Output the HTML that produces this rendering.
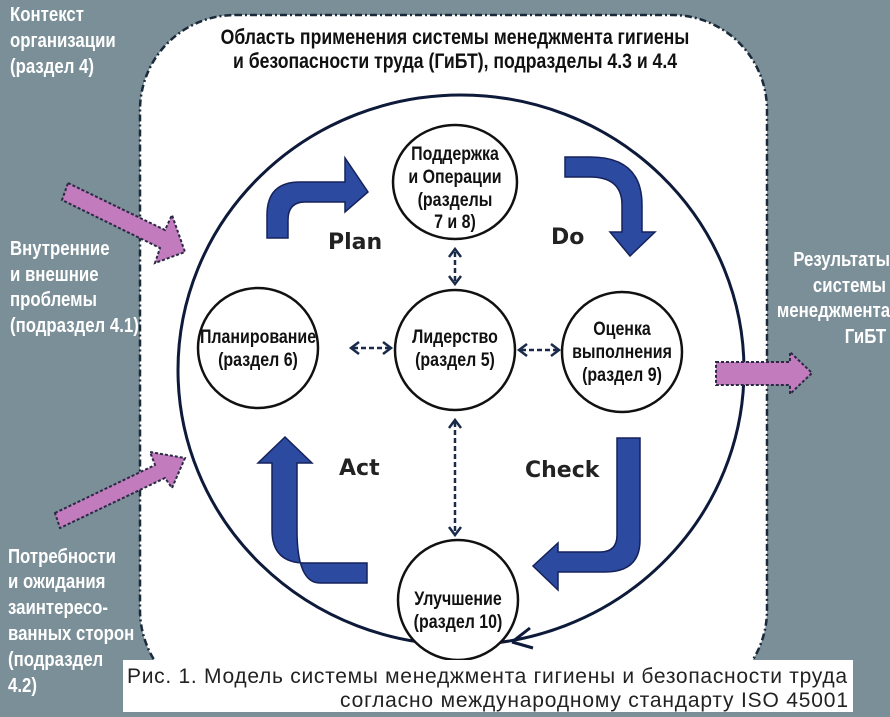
<!DOCTYPE html>
<html><head><meta charset="utf-8"><style>
html,body{margin:0;padding:0;background:#7b8f98;}
svg{display:block}
text.n{transform-box:fill-box;transform:scaleX(0.84)}
.w{font-family:"Liberation Sans",sans-serif;font-weight:bold;fill:#fff;font-size:20px}
.b{font-family:"Liberation Sans",sans-serif;font-weight:bold;fill:#111;font-size:19px}
.p{font-family:"DejaVu Sans","Liberation Sans",sans-serif;font-weight:bold;fill:#222;font-size:22px}
.c{font-family:"Liberation Sans",sans-serif;fill:#222;font-size:21px}
.mid text{transform-origin:center}
.st text{transform-origin:left}
.en text{transform-origin:right}
</style></head><body>
<svg width="890" height="717" viewBox="0 0 890 717" xmlns="http://www.w3.org/2000/svg">
<rect x="0" y="0" width="890" height="717" fill="#7b8f98"/>
<rect x="140" y="15" width="627" height="690" rx="95" fill="#fff" stroke="#1a2a3a" stroke-width="2.5" stroke-dasharray="7,3,2,3"/>
<ellipse cx="461" cy="370" rx="283" ry="275" fill="none" stroke="#0e1a3a" stroke-width="3"/>
<path d="M512,642 L530,628 M512,642 L533,648" stroke="#0e1a3a" stroke-width="3" fill="none"/>
<g fill="#fff" stroke="#111" stroke-width="2.5">
<ellipse cx="455" cy="182" rx="62" ry="57"/>
<circle cx="258" cy="348" r="60"/>
<circle cx="455" cy="350" r="60"/>
<circle cx="622" cy="352" r="60"/>
<circle cx="458" cy="600" r="60"/>
</g>
<g stroke="#1a2a4a" stroke-width="2.5" stroke-dasharray="5,3" fill="none">
<line x1="455" y1="252" x2="455" y2="282"/>
<line x1="353" y1="348" x2="389" y2="348"/>
<line x1="521" y1="350" x2="557" y2="350"/>
<line x1="455" y1="422" x2="455" y2="533"/>
</g>
<g stroke="#1a2a4a" stroke-width="2.5" fill="none">
<path d="M449,257 L455,249 L461,257 M449,276 L455,284 L461,276"/>
<path d="M359,342 L351,348 L359,354 M383,342 L391,348 L383,354"/>
<path d="M527,344 L519,350 L527,356 M551,344 L559,350 L551,356"/>
<path d="M449,428 L455,420 L461,428 M449,527 L455,535 L461,527"/>
</g>
<g fill="#2c4aa0" stroke="#15225a" stroke-width="1.5">
<path d="M267,238 L267,215 Q267,182 300,182 L345,182 L345,158 L368,192 L345,212 L345,202 L305,202 Q288,202 288,220 L288,238 Z"/>
<path d="M565,157 L590,157 Q642,157 642,205 L642,232 L655,232 L630,256 L610,232 L622,232 L622,205 Q622,177 590,177 L565,177 Z"/>
<path d="M640,438 L640,540 Q640,572 605,572 L558,572 L558,590 L533,566 L558,543 L558,552 L600,552 Q617,552 617,535 L617,438 Z"/>
<path d="M367,563 L305,563 Q272,563 272,530 L272,463 L258,463 L285,437 L312,463 L297,463 L297,530 Q297,583 320,583 L367,583 Z"/>
</g>
<g fill="#c27bbd" stroke="#2a2a44" stroke-width="2" stroke-dasharray="3,2">
<path d="M68,183 L165,230 L172,215 L185,252 L155,263 L160,248 L62,200 Z"/>
<path d="M55,513 L155,465 L150,452 L185,458 L172,488 L165,478 L60,528 Z"/>
<path d="M716,362 L790,362 L790,352 L812,373 L790,394 L790,385 L716,385 Z"/>
</g>
<text class="p" x="328" y="249">Plan</text>
<text class="p" x="551" y="244">Do</text>
<text class="p" x="339" y="475">Act</text>
<text class="p" x="525" y="477">Check</text>
<g class="b mid" text-anchor="middle">
<text class="n" x="455" y="160">Поддержка</text>
<text class="n" x="455" y="183">и Операции</text>
<text class="n" x="455" y="206">(разделы</text>
<text class="n" x="455" y="228">7 и 8)</text>
<text class="n" x="258" y="343">Планирование</text>
<text class="n" x="258" y="366">(раздел 6)</text>
<text class="n" x="455" y="343">Лидерство</text>
<text class="n" x="455" y="366">(раздел 5)</text>
<text class="n" x="622" y="335">Оценка</text>
<text class="n" x="622" y="358">выполнения</text>
<text class="n" x="622" y="381">(раздел 9)</text>
<text class="n" x="458" y="605">Улучшение</text>
<text class="n" x="458" y="628">(раздел 10)</text>
</g>
<g class="b mid" text-anchor="middle" style="font-size:21px">
<text class="n" x="455" y="44">Область применения системы менеджмента гигиены</text>
<text class="n" x="455" y="68">и  безопасности труда (ГиБТ), подразделы 4.3 и 4.4</text>
</g>
<g class="w st">
<text class="n" x="10" y="21">Контекст</text>
<text class="n" x="10" y="47">организации</text>
<text class="n" x="10" y="73">(раздел 4)</text>
<text class="n" x="10" y="255">Внутренние</text>
<text class="n" x="10" y="281">и  внешние</text>
<text class="n" x="10" y="306">проблемы</text>
<text class="n" x="10" y="332">(подраздел 4.1)</text>
<text class="n" x="8" y="563">Потребности</text>
<text class="n" x="8" y="588">и  ожидания</text>
<text class="n" x="8" y="614">заинтересо-</text>
<text class="n" x="8" y="640">ванных сторон</text>
<text class="n" x="8" y="666">(подраздел</text>
<text class="n" x="8" y="692">4.2)</text>
</g>
<g class="w en" text-anchor="end">
<text class="n" x="890" y="266">Результаты</text>
<text class="n" x="886" y="292">системы</text>
<text class="n" x="890" y="317">менеджмента</text>
<text class="n" x="886" y="343">ГиБТ</text>
</g>
<rect x="123" y="660" width="730" height="52" fill="#fff"/>
<text class="c" x="127" y="683" textLength="720" lengthAdjust="spacing">Рис. 1. Модель системы менеджмента гигиены и безопасности труда</text>
<text class="c" x="340" y="707" textLength="508" lengthAdjust="spacing">согласно международному стандарту ISO 45001</text>
</svg>
</body></html>
